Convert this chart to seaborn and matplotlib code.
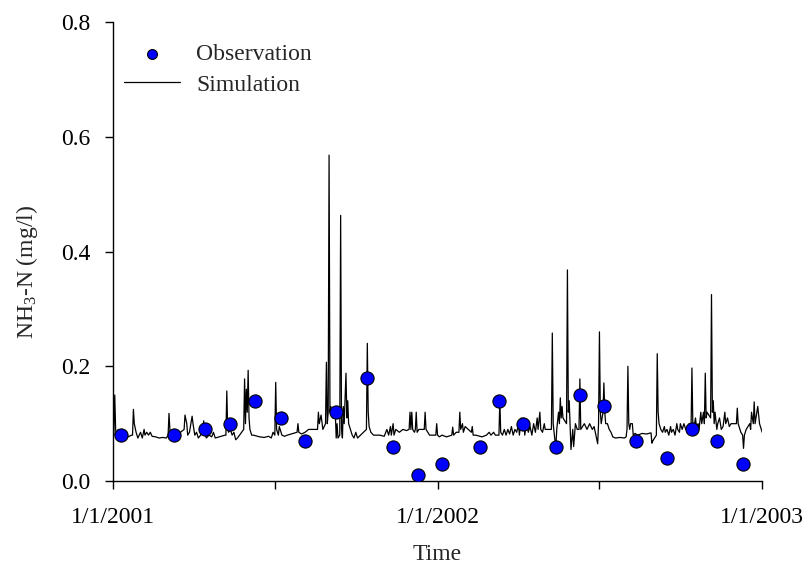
import numpy as np
import pandas as pd
import matplotlib
matplotlib.use("Agg")
import matplotlib.pyplot as plt
import seaborn as sns

# Observations: day offset from 2001-01-01, NH3-N (mg/l)
obs_days = [9, 69, 103, 132, 160, 189, 216, 251, 286, 315, 343, 370,
            413, 434, 461, 498, 525, 552, 588, 623, 651, 679, 708]
obs_vals = [0.08, 0.08, 0.09, 0.10, 0.14, 0.11, 0.07, 0.12, 0.18, 0.06, 0.01, 0.03,
            0.06, 0.14, 0.10, 0.06, 0.15, 0.13, 0.07, 0.04, 0.09, 0.07, 0.03]

# Simulation: day offset, value
sim_days = [0, 1, 2, 3, 4, 6, 8, 9, 10, 11, 14, 21, 22, 23, 24, 26, 28,
            31, 33, 35, 36, 38, 40, 42, 44, 48, 52, 56, 60,
            62, 63, 64, 66, 68, 70, 72, 80, 81, 83, 84, 86, 89, 90, 92, 94, 96,
            101, 102, 103, 105, 108, 111, 113, 115,
            126, 127, 128, 129, 130, 132, 134, 136, 138, 140,
            147, 148, 149, 150, 151, 152, 153, 154, 156, 158,
            165, 170, 175, 178, 180, 182, 183, 184, 186, 187, 190, 193, 196,
            207, 208, 209, 212, 216, 220, 230, 231, 232, 234, 236,
            239, 240, 241, 242, 243, 244, 245, 247, 249, 250, 251, 252, 253,
            255, 256, 257, 258, 259, 260, 262, 263, 264, 265, 267, 269, 271, 273, 275,
            285, 286, 287, 288, 290, 293, 300, 305,
            308, 310, 312, 313, 315, 316, 318, 322, 326, 330,
            333, 334, 335, 336, 337, 339, 340, 341, 342, 344, 350, 351, 352, 354, 356, 363, 364, 365, 367,
            370, 375, 381, 382, 383, 386, 389, 390, 391, 393, 394, 396, 403, 404, 405, 408,
            415, 420, 423, 425, 428, 430,
            434, 435, 436, 438, 440, 442, 444, 446, 448, 450, 452, 454, 456, 457, 459, 460,
            462, 463, 465, 467, 469, 471, 473, 475, 477, 478, 480, 481, 483, 485, 486,
            493, 494, 495, 496, 497, 498, 499, 501, 502, 503, 504, 505, 506,
            510, 511, 512, 513, 514, 515, 517, 518, 520, 522, 524, 525, 526,
            530, 533, 536, 539, 541, 543, 545, 546, 547, 548, 549, 551, 552, 553, 554,
            556, 558, 560, 562, 565, 570, 575, 577, 578, 579, 580, 581, 582,
            584, 585, 587, 590, 595, 600, 605, 606, 607,
            611, 612, 613, 614, 616, 618, 620, 621, 623, 625, 627, 628, 630, 632, 634, 635,
            637, 638, 640, 642, 644, 646, 648, 650, 651, 652, 653, 655, 656, 658, 659,
            661, 662, 664, 665, 666, 667, 668, 672, 673, 674, 675, 676, 677, 679, 680,
            682, 684, 686, 688, 689, 691, 693, 695, 701, 702, 703, 705, 706, 708, 709, 710,
            712, 714, 716, 717, 718, 720, 721, 722, 724, 725, 727, 729, 730]
sim_vals = [0.085, 0.08, 0.15, 0.09, 0.08, 0.09, 0.08, 0.075, 0.09, 0.075, 0.075, 0.08, 0.08, 0.125, 0.10, 0.085, 0.075,
            0.085, 0.075, 0.09, 0.08, 0.085, 0.08, 0.085, 0.078, 0.077, 0.075, 0.076, 0.075,
            0.08, 0.118, 0.09, 0.08, 0.077, 0.076, 0.08, 0.09, 0.115, 0.10, 0.08, 0.085, 0.113, 0.10, 0.08, 0.085, 0.075,
            0.085, 0.105, 0.085, 0.075, 0.08, 0.077, 0.085, 0.075,
            0.08, 0.08, 0.157, 0.09, 0.085, 0.09, 0.08, 0.085, 0.072, 0.075,
            0.09, 0.178, 0.10, 0.16, 0.12, 0.193, 0.11, 0.09, 0.08, 0.08,
            0.077, 0.076, 0.078, 0.075, 0.085, 0.08, 0.172, 0.09, 0.08, 0.095, 0.08, 0.078, 0.08,
            0.085, 0.10, 0.085, 0.082, 0.085, 0.09, 0.09, 0.12, 0.10, 0.115, 0.09,
            0.10, 0.207, 0.10, 0.12, 0.568, 0.12, 0.13, 0.11, 0.11, 0.12, 0.075, 0.10, 0.075,
            0.08, 0.463, 0.09, 0.075, 0.13, 0.10, 0.188, 0.11, 0.14, 0.10, 0.09, 0.08, 0.075, 0.085, 0.075,
            0.09, 0.24, 0.12, 0.095, 0.085, 0.08, 0.08, 0.078,
            0.09, 0.08, 0.095, 0.08, 0.10, 0.08, 0.09, 0.085, 0.09, 0.088,
            0.09, 0.12, 0.09, 0.12, 0.09, 0.085, 0.09, 0.12, 0.085, 0.09, 0.09, 0.12, 0.09, 0.085, 0.08, 0.08, 0.10, 0.08, 0.077,
            0.08, 0.077, 0.08, 0.094, 0.08, 0.085, 0.085, 0.12, 0.09, 0.10, 0.085, 0.095, 0.085, 0.095, 0.08, 0.08,
            0.077, 0.08, 0.085, 0.08, 0.085, 0.08,
            0.08, 0.14, 0.085, 0.08, 0.09, 0.08, 0.09, 0.082, 0.095, 0.08, 0.09, 0.085, 0.10, 0.08, 0.11, 0.09,
            0.11, 0.08, 0.10, 0.085, 0.095, 0.08, 0.10, 0.085, 0.11, 0.09, 0.12, 0.09, 0.085, 0.10, 0.09,
            0.09, 0.258, 0.10, 0.085, 0.07, 0.06, 0.09, 0.12, 0.10, 0.145, 0.11, 0.13, 0.11,
            0.10, 0.368, 0.12, 0.14, 0.10, 0.055, 0.09, 0.06, 0.10, 0.09, 0.09, 0.178, 0.09,
            0.10, 0.09, 0.10, 0.09, 0.095, 0.08, 0.065, 0.10, 0.26, 0.12, 0.10, 0.12, 0.171, 0.12, 0.10,
            0.10, 0.09, 0.085, 0.077, 0.075, 0.076, 0.075, 0.077, 0.09, 0.20, 0.10, 0.09, 0.10,
            0.10, 0.08, 0.083, 0.08, 0.083, 0.082, 0.084, 0.066, 0.07,
            0.08, 0.222, 0.12, 0.10, 0.09, 0.085, 0.095, 0.085, 0.09, 0.08, 0.095, 0.085, 0.09, 0.08, 0.10, 0.09,
            0.085, 0.10, 0.09, 0.10, 0.09, 0.095, 0.10, 0.09, 0.197, 0.10, 0.09, 0.11, 0.095, 0.10, 0.09,
            0.12, 0.10, 0.12, 0.10, 0.188, 0.11, 0.12, 0.11, 0.325, 0.12, 0.14, 0.10, 0.12, 0.09, 0.10,
            0.11, 0.09, 0.095, 0.12, 0.10, 0.11, 0.095, 0.10, 0.10, 0.127, 0.10, 0.09, 0.085, 0.08, 0.057, 0.08,
            0.09, 0.095, 0.10, 0.09, 0.12, 0.10, 0.138, 0.10, 0.12, 0.13, 0.10, 0.09, 0.085]

start = pd.Timestamp("2001-01-01")
sim_df = pd.DataFrame({"Time": start + pd.to_timedelta(sim_days, unit="D"), "NH3": sim_vals})
obs_df = pd.DataFrame({"Time": start + pd.to_timedelta(obs_days, unit="D"), "NH3": obs_vals})

sns.set_style("ticks")
plt.rcParams["font.family"] = ["Liberation Serif", "DejaVu Serif"]
plt.rcParams["mathtext.fontset"] = "custom"
plt.rcParams["mathtext.rm"] = "Liberation Serif"
plt.rcParams["mathtext.it"] = "Liberation Serif:italic"

FS = 17

fig = plt.figure(figsize=(8.04, 5.72), dpi=100)
ax = fig.add_axes([0.1405, 0.159, 0.8075, 0.8025])

sns.lineplot(data=sim_df, x="Time", y="NH3", ax=ax, color="black", lw=0.9,
             label="Simulation", zorder=2)
sns.scatterplot(data=obs_df, x="Time", y="NH3", ax=ax, color="#0000ff", s=90,
                edgecolor="black", linewidth=0.8, label="Observation", zorder=3)

ax.set_xlim(pd.Timestamp("2001-01-01"), pd.Timestamp("2003-01-01"))
ax.set_ylim(0, 0.8)
ax.set_yticks([0.0, 0.2, 0.4, 0.6, 0.8])
ax.set_yticklabels(["0.0", "0.2", "0.4", "0.6", "0.8"])
xt = [pd.Timestamp("2001-01-01"), pd.Timestamp("2002-01-01"), pd.Timestamp("2003-01-01")]
ax.set_xticks(xt)
ax.set_xticklabels(["1/1/2001", "1/1/2002", "1/1/2003"])
ax.set_xticks([pd.Timestamp("2001-07-02"), pd.Timestamp("2002-07-02")], minor=True)

for s in ["top", "right"]:
    ax.spines[s].set_visible(False)
for s in ["left", "bottom"]:
    ax.spines[s].set_linewidth(1.0)
    ax.spines[s].set_color("black")
ax.tick_params(axis="both", which="both", direction="out", length=6, width=1.0,
               labelsize=FS, colors="black")
ax.tick_params(axis="x", which="major", pad=13)
ax.tick_params(axis="y", pad=10)

ax.set_xlabel("Time", fontsize=FS)
ax.xaxis.set_label_coords(0.5, -0.138)
ax.set_ylabel("NH$_3$-N (mg/l)", fontsize=FS)
ax.yaxis.set_label_coords(-0.112, 0.455)

handles, labels = ax.get_legend_handles_labels()
order = [labels.index("Observation"), labels.index("Simulation")]
ax.legend([handles[i] for i in order], [labels[i] for i in order],
          loc="upper left", bbox_to_anchor=(0.0025, 0.973), frameon=False,
          fontsize=FS, handlelength=2.35, handletextpad=0.7, labelspacing=0.37,
          borderaxespad=0.0, markerscale=0.75)

fig.savefig("out.png", dpi=100)
